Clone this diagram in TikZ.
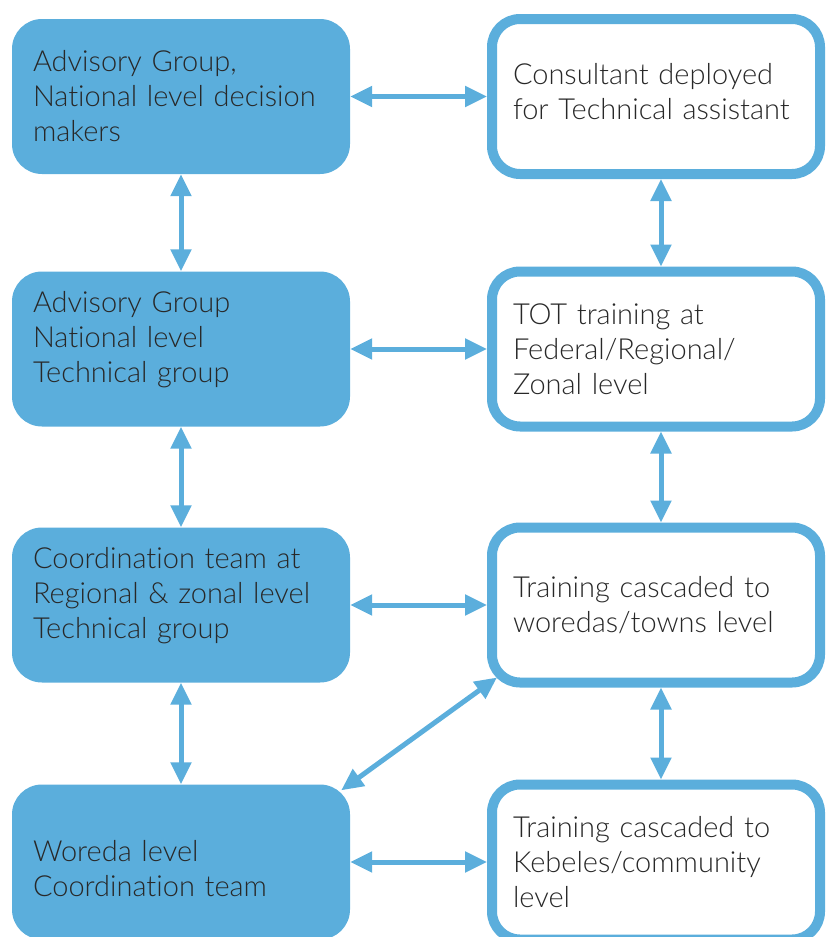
\documentclass[tikz,border=0pt]{standalone}
\usepackage{fontspec}
\setmainfont{Lato Light}[Ligatures={NoCommon}]
\usepackage{xcolor}
\definecolor{boxblue}{RGB}{91, 174, 220}
\definecolor{textgrey}{RGB}{40, 40, 40}
\usetikzlibrary{
  arrows.meta,
  positioning,
  calc
}

\begin{document}
\begin{tikzpicture}[x=1pt, y=-1pt,
  leftbox/.style={rectangle, rounded corners=30pt, fill=boxblue,
    minimum width=338pt, minimum height=155pt, inner xsep=21pt,
    text width=296pt, align=left, text=textgrey,
    font=\fontsize{29}{35}\selectfont},
  rightbox/.style={rectangle, rounded corners=28pt, draw=boxblue,
    line width=10pt, fill=white, minimum width=328pt, minimum height=155pt,
    inner xsep=21pt, text width=286pt, align=left, text=textgrey,
    font=\fontsize{29}{35}\selectfont},
  lift/.style={text depth=#1},
  link/.style={{Triangle[length=22pt, width=20pt]}-{Triangle[length=22pt, width=20pt]},
    line width=5pt, boxblue}]

  \useasboundingbox (0,0) rectangle (825,937);

  % left column: decision and coordination bodies
  \node[leftbox] (adv) at (181, 96.5) {Advisory Group,\\National level decision\\makers};
  \node[leftbox, lift=94pt] (tech) at (181, 349) {Advisory Group\\National level\\Technical group};
  \node[leftbox, lift=94pt] (coord) at (181, 605) {Coordination team at\\Regional \& zonal level\\Technical group};
  \node[leftbox, lift=23pt] (woreda) at (181, 862) {Woreda level\\Coordination team};

  % right column: training cascade
  \node[rightbox, lift=46pt] (consult) at (656, 96.5) {Consultant deployed\\for Technical assistant};
  \node[rightbox] (tot) at (656, 349) {TOT training at\\Federal/Regional/\\Zonal level};
  \node[rightbox] (towns) at (656, 605) {Training cascaded to\\woredas/towns level};
  \node[rightbox] (kebele) at (656, 862) {Training cascaded to\\Kebeles/community\\level};

  % links within the left column
  \draw[link] (adv) -- (tech);
  \draw[link] (tech) -- (coord);
  \draw[link] (coord) -- (woreda);

  % links within the right column
  \draw[link] ([xshift=5pt]consult.south) -- ([xshift=5pt]tot.north);
  \draw[link] ([xshift=5pt]tot.south) -- ([xshift=5pt]towns.north);
  \draw[link] ([xshift=5pt]towns.south) -- ([xshift=5pt]kebele.north);

  % links across the columns
  \draw[link] (adv) -- (consult);
  \draw[link] (tech) -- (tot);
  \draw[link] (coord) -- (towns);
  \draw[link] (woreda) -- (kebele);
  \draw[link] ([shift={(10pt,10pt)}]towns.south west) -- ([shift={(-9pt,-6pt)}]woreda.north east);
\end{tikzpicture}
\end{document}
